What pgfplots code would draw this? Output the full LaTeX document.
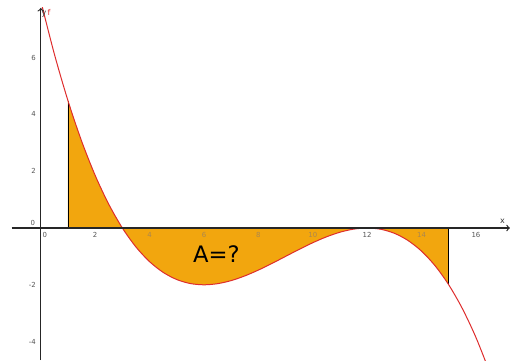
\documentclass[border=0pt]{standalone}
\usepackage{fontspec}
\setmainfont{DejaVu Sans}
\usepackage{pgfplots}
\pgfplotsset{compat=1.18}
\usepgfplotslibrary{fillbetween}
\definecolor{fillor}{RGB}{242,166,14}
\definecolor{curvered}{RGB}{222,45,45}
\definecolor{ticktxt}{RGB}{85,85,85}
\definecolor{tickfade}{RGB}{170,135,80}
\begin{document}
\begin{tikzpicture}
\begin{axis}[
  x=20.4pt, y=21.3pt,
  xmin=-1.07, xmax=17.25, ymin=-4.65, ymax=7.75,
  enlargelimits=false,
  axis lines=middle,
  axis on top,
  axis line style={->, line width=0.85pt, color=black!85},
  major tick length=0pt,
  xtick={2,4,6,8,10,12,14,16},
  xticklabels={2,\textcolor{tickfade}{4},\textcolor{tickfade}{6},\textcolor{tickfade}{8},\textcolor{tickfade}{10},12,\textcolor{tickfade}{14},16},
  ytick={-4,-2,2,4,6},
  /pgf/number format/assume math mode=true,
  xticklabel style={font=\fontsize{5.2}{6}\selectfont, text=ticktxt, anchor=north, inner sep=0pt, yshift=-3pt},
  yticklabel style={font=\fontsize{5.2}{6}\selectfont, text=ticktxt, anchor=east, inner sep=0pt, xshift=-3.6pt},
  clip=true,
]
\addplot[name path=f, draw=none, smooth] coordinates {
(-0.25,9.0315) (0,8) (0.5,6.1227) (1,4.4815) (1.5,3.0625) (2,1.8519) (2.5,0.8356)
(3,0) (3.5,-0.6690) (4,-1.1852) (4.5,-1.5625) (5,-1.8148) (5.5,-1.9560)
(6,-2) (6.5,-1.9606) (7,-1.8519) (7.5,-1.6875) (8,-1.4815) (8.5,-1.2477)
(9,-1) (9.5,-0.7523) (10,-0.5185) (10.5,-0.3125) (11,-0.1481) (11.5,-0.0394)
(12,0) (12.5,-0.0440) (13,-0.1852) (13.5,-0.4375) (14,-0.8148) (14.5,-1.3310)
(15,-2) (15.5,-2.8356) (16,-3.8519) (16.5,-5.0625)
};
\addplot[name path=zero, draw=none] coordinates {(-1,0) (17.2,0)};
\addplot[fill=fillor, draw=none] fill between[of=f and zero, soft clip={domain=1:15}];
\addplot[black, line width=0.6pt] coordinates {(1,0) (1,4.4815)};
\addplot[black, line width=0.6pt] coordinates {(15,0) (15,-2)};
\addplot[curvered, line width=0.75pt, smooth] coordinates {
(-0.25,9.0315) (0,8) (0.5,6.1227) (1,4.4815) (1.5,3.0625) (2,1.8519) (2.5,0.8356)
(3,0) (3.5,-0.6690) (4,-1.1852) (4.5,-1.5625) (5,-1.8148) (5.5,-1.9560)
(6,-2) (6.5,-1.9606) (7,-1.8519) (7.5,-1.6875) (8,-1.4815) (8.5,-1.2477)
(9,-1) (9.5,-0.7523) (10,-0.5185) (10.5,-0.3125) (11,-0.1481) (11.5,-0.0394)
(12,0) (12.5,-0.0440) (13,-0.1852) (13.5,-0.4375) (14,-0.8148) (14.5,-1.3310)
(15,-2) (15.5,-2.8356) (16,-3.8519) (16.5,-5.0625)
};
\node[font=\fontsize{17}{20}\selectfont, anchor=base west, inner sep=0pt] at (axis cs:5.59,-1.23) {A=?};
\node[font=\fontsize{5.2}{6}\selectfont, text=ticktxt, inner sep=0pt] at (axis cs:0.15,-0.25) {0};
\node[font=\fontsize{5.2}{6}\selectfont, text=ticktxt, inner sep=0pt] at (axis cs:-0.29,0.18) {0};
\node[font=\fontsize{6}{7}\selectfont, text=black!80, inner sep=0pt] at (axis cs:16.98,0.22) {x};
\node[font=\fontsize{6}{7}\selectfont, text=black!80, inner sep=0pt] at (axis cs:0.12,7.53) {y};
\node[font=\fontsize{6}{7}\selectfont, text=curvered, inner sep=0pt] at (axis cs:0.3,7.6) {f};
\coordinate (bbsw) at (axis cs:-1.5,-4.65);
\coordinate (bbne) at (axis cs:17.4,8.03);
\end{axis}
\pgfresetboundingbox
\useasboundingbox (bbsw) rectangle (bbne);
\end{tikzpicture}
\end{document}
